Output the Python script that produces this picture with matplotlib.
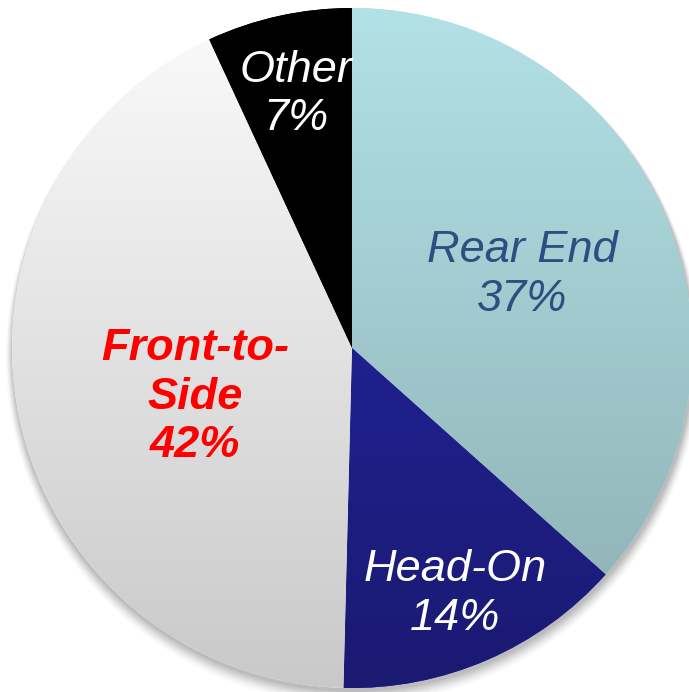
import numpy as np
import matplotlib
matplotlib.use("Agg")
import matplotlib.pyplot as plt
from matplotlib.colors import LinearSegmentedColormap
from matplotlib.patches import Circle

categories = ["Rear End", "Head-On", "Front-to-Side", "Other"]
values = [36.6, 13.8, 42.7, 6.9]
pct_labels = ["37%", "14%", "42%", "7%"]
name_labels = ["Rear End", "Head-On", "Front-to-\nSide", "Other"]

W, H = 689, 692
fig = plt.figure(figsize=(W / 100, H / 100), dpi=100)
ax = fig.add_axes([0, 0, 1, 1])

cx, cy, R = 352, 344, 340

# soft shadow
for i, a in enumerate(np.linspace(0.06, 0.02, 7)):
    ax.add_patch(Circle((cx + 1, cy - 3 - i), R + 1 + i, color="black", alpha=a, lw=0, zorder=0))

grads = [("#b2e1e6", "#8caeb1"), ("#2626ac", "#1a1a72"), ("#fbfbfb", "#c9c9c9"), ("#000000", "#000000")]

wedges, _ = ax.pie(values, startangle=90, counterclock=False, center=(cx, cy), radius=R,
                   colors=[g[0] for g in grads], wedgeprops=dict(lw=0))

grad = np.linspace(1, 0, 256).reshape(-1, 1)
for w, (c1, c2) in zip(wedges, grads):
    cmap = LinearSegmentedColormap.from_list("g", [c2, c1])
    im = ax.imshow(grad, cmap=cmap, extent=(cx - R, cx + R, cy - R, cy + R), origin="upper",
                   aspect="auto", zorder=2)
    im.set_clip_path(w)
    w.set_zorder(1)
ax.set_xlim(0, W)
ax.set_ylim(0, H)
ax.set_aspect("equal")
ax.axis("off")

colors_txt = ["#2a4f80", "white", "#ff0000", "white"]
weights = ["normal", "normal", "bold", "normal"]
fracs = [0.544, 0.785, 0.483, 0.764]
ang_off = [-0.9, -0.7, 5.7, 0.1]
for w, nm, pc, c, wt, f, da in zip(wedges, name_labels, pct_labels, colors_txt, weights, fracs, ang_off):
    ang = np.deg2rad((w.theta1 + w.theta2) / 2 + da)
    x = cx + f * R * np.cos(ang)
    y = cy + f * R * np.sin(ang)
    ax.text(x, y, nm + "\n" + pc, ha="center", va="center", color=c, fontsize=32.5,
            fontstyle="italic", fontweight=wt, family="Liberation Sans", linespacing=1.24,
            zorder=5)

fig.savefig("out.png", dpi=100)
